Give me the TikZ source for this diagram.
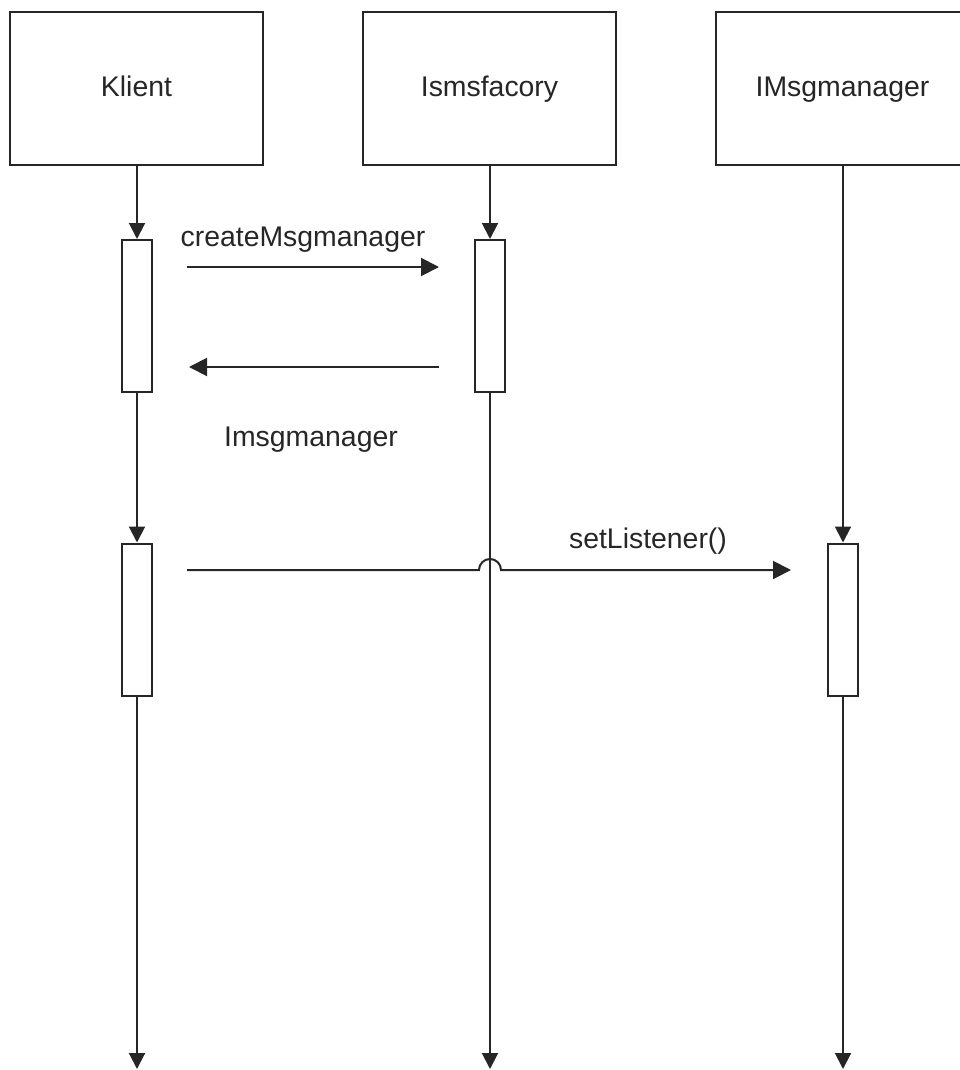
\documentclass[tikz,border=0pt]{standalone}
\usepackage{fontspec}
\setmainfont{Liberation Sans}
\usetikzlibrary{arrows.meta}
\definecolor{ink}{HTML}{262626}
\tikzset{
	objbox/.style={draw=ink,line width=1.2pt,fill=white,minimum width=126.5pt,minimum height=76.5pt,inner sep=0pt},
	actbar/.style={draw=ink,line width=1pt,fill=white,minimum width=15pt,minimum height=76pt,inner sep=0pt},
	lifeline/.style={draw=ink,line width=1pt,-{Triangle[width=8pt,length=8pt]}},
	msg/.style={draw=ink,line width=1pt,-{Triangle[width=9pt,length=9pt]}},
	lbl/.style={text=ink,font=\fontsize{14.2}{17}\selectfont,inner sep=0pt}
}
\begin{document}
\begin{tikzpicture}[x=0.5pt,y=-0.5pt]
	\useasboundingbox (0,0) rectangle (959,1070);
	% Objects
	\node[objbox] (klient)  at (136.5,88.5) {};
	\node[objbox] (facory)  at (489.5,88.5) {};
	\node[objbox] (manager) at (842.5,88.5) {};
	\node[lbl,anchor=base] (lblKlient)  at (136.5,97) {Klient};
	\node[lbl,anchor=base] (lblFacory)  at (489.5,97) {Ismsfacory};
	\node[lbl,anchor=base] (lblManager) at (842.5,97) {IMsgmanager};
	% Activation bars
	\node[actbar] (actK1) at (137,316) {};
	\node[actbar] (actF1) at (490,316) {};
	\node[actbar] (actK2) at (137,619.5) {};
	\node[actbar] (actM1) at (843,619.5) {};
	% Ends of the lifelines
	\coordinate (endK) at (137,1069);
	\coordinate (endF) at (490,1069);
	\coordinate (endM) at (843,1069);
	% Lifelines
	\draw[lifeline] (klient.south -| actK1.north) -- (actK1.north);
	\draw[lifeline] (actK1.south) -- (actK2.north);
	\draw[lifeline] (actK2.south) -- (endK);
	\draw[lifeline] (facory.south -| actF1.north) -- (actF1.north);
	\draw[lifeline] (actF1.south) -- (endF);
	\draw[lifeline] (manager.south -| actM1.north) -- (actM1.north);
	\draw[lifeline] (actM1.south) -- (endM);
	% Message levels
	\coordinate (m1) at (0,267);
	\coordinate (m2) at (0,367);
	\coordinate (m3) at (0,570);
	% Messages
	\draw[msg,shorten <=17pt,shorten >=17.5pt] (actK1.east |- m1) -- (actF1.west |- m1);
	\draw[msg,shorten <=17.5pt,shorten >=18pt] (actF1.west |- m2) -- (actK1.east |- m2);
	\draw[msg] ([xshift=17pt]actK2.east |- m3) -- ([xshift=-5.5pt]actF1.south |- m3)
		arc[start angle=180,end angle=360,radius=11] -- ([xshift=-18pt]actM1.west |- m3);
	% Labels
	\node[lbl] (lblCreate) at (303,240) {createMsgmanager};
	\node[lbl] (lblReturn) at (311,440) {Imsgmanager};
	\node[lbl] (lblSet)    at (648,541) {setListener()};
\end{tikzpicture}
\end{document}
